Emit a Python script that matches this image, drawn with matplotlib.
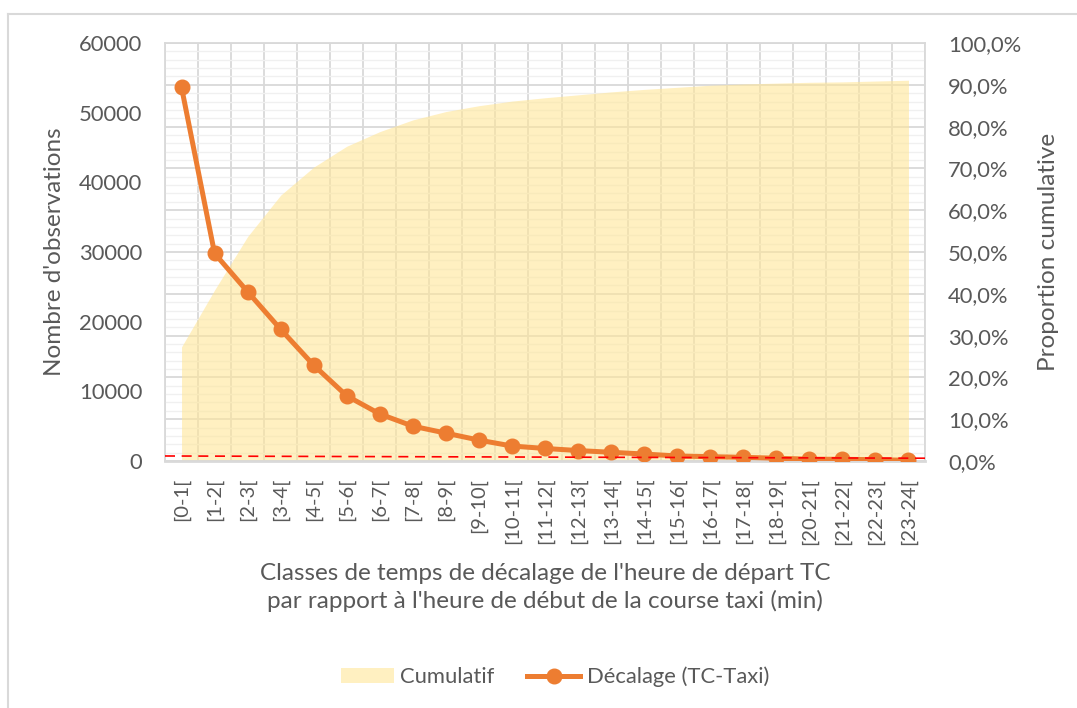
import matplotlib
matplotlib.use('Agg')
import matplotlib.pyplot as plt
from matplotlib.lines import Line2D
from matplotlib.patches import Patch
from matplotlib.ticker import MultipleLocator, FixedLocator, FuncFormatter

plt.rcParams['font.family'] = ['Lato', 'DejaVu Sans']

classes = ['[0-1[', '[1-2[', '[2-3[', '[3-4[', '[4-5[', '[5-6[', '[6-7[', '[7-8[',
           '[8-9[', '[9-10[', '[10-11[', '[11-12[', '[12-13[', '[13-14[', '[14-15[',
           '[15-16[', '[16-17[', '[17-18[', '[18-19[', '[20-21[', '[21-22[', '[22-23[',
           '[23-24[']
decalage = [53650, 29800, 24300, 18900, 13750, 9350, 6750, 5000, 4000, 3000, 2150, 1800,
            1500, 1250, 1000, 720, 620, 530, 400, 260, 240, 190, 100]
cumulatif = [0.273, 0.409, 0.537, 0.636, 0.703, 0.753, 0.788, 0.816, 0.836, 0.850, 0.861,
             0.869, 0.876, 0.883, 0.889, 0.894, 0.899, 0.902, 0.904, 0.906, 0.907, 0.909,
             0.911]
seuil = [720, 400]  # red dashed line, left and right end

txt = '#595959'
grid_major = '#D9D9D9'
grid_minor = '#F0F0F0'
orange = '#ED7D31'
tick_fs = 15.8
title_fs = 17.5

fig = plt.figure(figsize=(10.77, 7.08), dpi=100)
W, H = 1077, 708
pos = [165 / W, 1 - 461 / H, 760 / W, 418 / H]

# area axis (right scale) drawn first so the line sits on top
ax_area = fig.add_axes(pos)
ax_line = ax_area.twinx()

x = list(range(len(classes)))
ax_area.fill_between(x, cumulatif, 0, color='#FFE699', alpha=0.6, lw=0, zorder=2)
ax_area.set_xlim(-0.5, len(classes) - 0.5)
ax_area.set_ylim(0, 1)
ax_area.yaxis.tick_right()
ax_area.yaxis.set_label_position('right')
ax_area.yaxis.set_major_locator(MultipleLocator(0.1))
ax_area.yaxis.set_minor_locator(MultipleLocator(0.02))
ax_area.yaxis.set_major_formatter(FuncFormatter(lambda v, p: f'{v * 100:.1f}%'.replace('.', ',')))
ax_area.set_xticks(x)
ax_area.set_xticklabels(classes, rotation=90)
ax_area.xaxis.set_minor_locator(FixedLocator([i - 0.5 for i in range(len(classes) + 1)]))
ax_area.grid(which='minor', axis='y', color=grid_minor, lw=1.0, zorder=0)
ax_area.grid(which='major', axis='y', color=grid_major, lw=1.3, zorder=0)
ax_area.grid(which='minor', axis='x', color=grid_major, lw=1.3, zorder=0)
ax_area.set_axisbelow(True)
ax_area.tick_params(which='both', length=0, labelcolor=txt)
ax_area.tick_params(axis='y', pad=16.5, labelsize=tick_fs)
ax_area.tick_params(axis='x', pad=12, labelsize=14.5)
ax_area.set_ylabel('Proportion cumulative', fontsize=title_fs, color=txt, labelpad=12)
for s in ax_area.spines.values():
    s.set_color(grid_major)
    s.set_linewidth(1.3)
ax_area.spines['bottom'].set_linewidth(2)

ax_line.yaxis.tick_left()
ax_line.yaxis.set_label_position('left')
ax_line.plot(x, decalage, color=orange, lw=3.6, marker='o', ms=10.5, zorder=3)
ax_line.plot([-0.5, len(classes) - 0.5], seuil, color='red', lw=1.2, ls=(0, (6, 4)), zorder=4)
ax_line.set_ylim(0, 60000)
ax_line.yaxis.set_major_locator(MultipleLocator(10000))
ax_line.tick_params(which='both', length=0, labelsize=tick_fs, labelcolor=txt, pad=16.5)
ax_line.set_ylabel("Nombre d'observations", fontsize=title_fs, color=txt, labelpad=10)
for s in ax_line.spines.values():
    s.set_visible(False)

fig.text(545 / W, 1 - 563 / H,
         "Classes de temps de décalage de l'heure de départ TC\n"
         "par rapport à l'heure de début de la course taxi (min)",
         ha='center', va='top', fontsize=title_fs, color=txt, linespacing=1.35)

handles = [Patch(facecolor='#FFE699', alpha=0.6, lw=0),
           Line2D([], [], color=orange, lw=3.6, marker='o', ms=10.5)]
fig.legend(handles, ['Cumulatif', 'Décalage (TC-Taxi)'], loc='center',
           bbox_to_anchor=(555 / W, 1 - 677 / H), ncol=2, frameon=False,
           fontsize=tick_fs, labelcolor=txt, handlelength=2.4, handletextpad=0.3,
           columnspacing=1.5)

# chart outer border (only left and top edges visible)
fig.add_artist(Line2D([8 / W, 8 / W], [0, 1 - 14 / H], color=grid_major, lw=1.5))
fig.add_artist(Line2D([8 / W, 1], [1 - 14 / H, 1 - 14 / H], color=grid_major, lw=1.5))

fig.savefig('out.png', dpi=100)
